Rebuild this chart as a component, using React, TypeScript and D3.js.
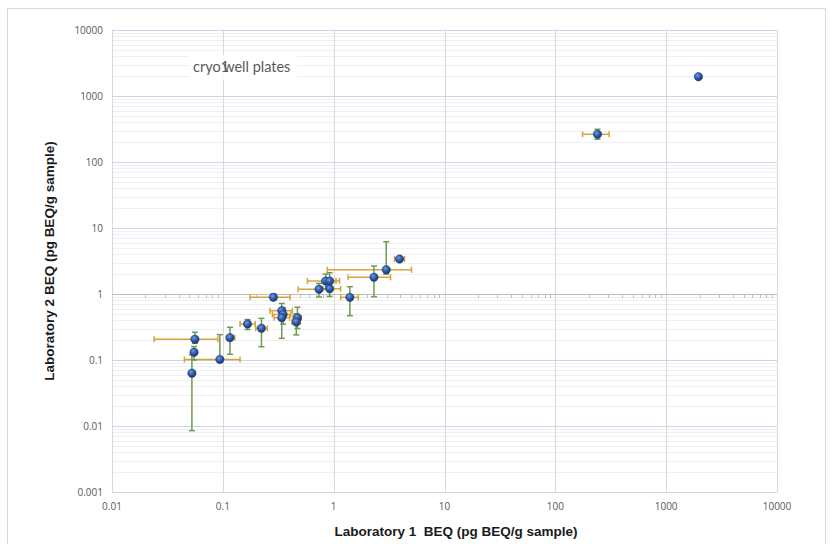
import * as d3 from 'd3';

// Laboratory 1 vs Laboratory 2 BEQ, with error bars (null = no bar)
const lab1 = [0.056, 0.055, 0.0526, 0.094, 0.116, 0.167, 0.223, 0.286, 0.34, 0.35, 0.34, 0.471, 0.46, 0.737, 0.92, 0.847, 0.92, 1.4, 2.31, 2.98, 3.93, 240, 1954];
const lab2 = [0.206, 0.131, 0.063, 0.102, 0.218, 0.351, 0.302, 0.891, 0.558, 0.49, 0.437, 0.437, 0.376, 1.18, 1.2, 1.57, 1.57, 0.89, 1.79, 2.33, 3.39, 263, 1960];
const lab1Low = [0.024, null, null, 0.045, 0.108, 0.143, 0.198, 0.176, 0.266, 0.28, 0.29, 0.43, 0.42, 0.477, 0.8, 0.58, 0.8, 1.156, 1.35, 0.877, 3.54, 176, null];
const lab1High = [0.09, null, null, 0.143, 0.128, 0.196, 0.252, 0.404, 0.424, 0.41, 0.4, 0.51, 0.5, 0.95, 1.156, 1.13, 1.05, 1.67, 3.26, 5.04, 4.36, 306, null];
const lab2Low = [0.179, 0.1, 0.0085, 0.095, 0.122, 0.29, 0.159, 0.81, 0.42, 0.35, 0.213, 0.3, 0.24, 0.9, 0.92, 1.2, 1.3, 0.469, 0.91, 2.0, null, 221, null];
const lab2High = [0.263, 0.16, 0.12, 0.242, 0.313, 0.41, 0.428, 1.0, 0.72, 0.62, 0.55, 0.63, 0.5, 1.45, 1.5, 2.0, 2.1, 1.29, 2.65, 6.2, null, 313, null];

const xTicks = [0.01, 0.1, 1, 10, 100, 1000, 10000];
const yTicks = [0.001, 0.01, 0.1, 1, 10, 100, 1000, 10000];
const xTickLabels = ['0.01', '0.1', '1', '10', '100', '1000', '10000'];
const yTickLabels = ['0.001', '0.01', '0.1', '1', '10', '100', '1000', '10000'];

const W = 830;
const H = 544;
const left = 112, right = 777, top = 30, bottom = 492;

const ORANGE = '#d6a43a';
const GREEN = '#6f9a52';
const tickFont = "'Open Sans', sans-serif";
const titleFont = "'Liberation Sans', Arial, sans-serif";

function minors(lo: number, hi: number) {
  const out: number[] = [];
  for (let d = lo; d < hi; d *= 10) {
    for (let k = 2; k <= 9; k++) out.push(d * k);
  }
  return out;
}

export default function App() {
  const x = d3.scaleLog().domain([0.01, 10000]).range([left, right]);
  const y = d3.scaleLog().domain([0.001, 10000]).range([bottom, top]);

  const xMinor = minors(0.01, 10000);
  const yMinor = minors(0.001, 10000);

  const pts = lab1.map((v, i) => ({
    x: v, y: lab2[i],
    xl: lab1Low[i], xh: lab1High[i],
    yl: lab2Low[i], yh: lab2High[i],
  }));

  const cap = 3;

  return (
    <svg width={W} height={H} style={{ position: 'absolute', left: 0, top: 0, background: '#fff' }}>
      <defs>
        <radialGradient id="ball" cx="40%" cy="35%" r="65%">
          <stop offset="0%" stopColor="#6f9be0" />
          <stop offset="55%" stopColor="#2d58a8" />
          <stop offset="100%" stopColor="#1b3468" />
        </radialGradient>
      </defs>
      <rect x={7.5} y={8.5} width={818} height={540} fill="#fff" stroke="#d9d9d9" />

      {/* minor horizontal grid */}
      {yMinor.map((v, i) => (
        <line key={'ym' + i} x1={left} x2={right} y1={Math.round(y(v)) + 0.5} y2={Math.round(y(v)) + 0.5} stroke="#eef0f5" />
      ))}
      {/* major vertical grid */}
      {xTicks.map((v, i) => (
        <line key={'xg' + i} x1={Math.round(x(v)) + 0.5} x2={Math.round(x(v)) + 0.5} y1={top} y2={bottom} stroke="#d9d9d9" />
      ))}
      {/* major horizontal grid */}
      {yTicks.map((v, i) => (
        <line key={'yg' + i} x1={left} x2={right} y1={Math.round(y(v)) + 0.5} y2={Math.round(y(v)) + 0.5} stroke="#c8d4ea" />
      ))}
      {/* horizontal axis line crossing at 1 */}
      <line x1={left} x2={right} y1={Math.round(y(1)) + 0.5} y2={Math.round(y(1)) + 0.5} stroke="#bfbfbf" />
      {xMinor.map((v, i) => (
        <line key={'xt' + i} x1={Math.round(x(v)) + 0.5} x2={Math.round(x(v)) + 0.5} y1={y(1)} y2={y(1) + 4} stroke="#bfbfbf" />
      ))}

      {/* title */}
      <rect x={189} y={55} width={108} height={25} fill="#fff" opacity={0.85} />
      <text x={193} y={72} fontFamily="Lato, sans-serif" fontSize={14.5} fill="#595959">
        <tspan>cryo</tspan>
        <tspan>1</tspan>
        <tspan dx={-6}>well plates</tspan>
      </text>

      {/* tick labels */}
      {xTicks.map((v, i) => (
        <text key={'xl' + i} x={x(v)} y={510} textAnchor="middle" fontFamily={tickFont} fontSize={10} fill="#595959">{xTickLabels[i]}</text>
      ))}
      {yTicks.map((v, i) => (
        <text key={'yl' + i} x={103} y={y(v) + 3.5} textAnchor="end" fontFamily={tickFont} fontSize={10} fill="#595959">{yTickLabels[i]}</text>
      ))}

      {/* axis titles */}
      <text x={456} y={536} textAnchor="middle" fontFamily={titleFont} fontWeight="bold" fontSize={13.5} fill="#1a1a1a">
        Laboratory 1{'\u00a0\u00a0'}BEQ (pg BEQ/g sample)
      </text>
      <text transform={`translate(54, 261) rotate(-90)`} textAnchor="middle" fontFamily={titleFont} fontWeight="bold" fontSize={13.5} fill="#1a1a1a">
        Laboratory 2 BEQ (pg BEQ/g sample)
      </text>

      {/* x error bars */}
      {pts.map((p, i) => p.xl == null ? null : (
        <g key={'ex' + i} stroke={ORANGE} strokeWidth={1.5}>
          <line x1={x(p.xl)} x2={x(p.xh!)} y1={y(p.y)} y2={y(p.y)} />
          <line x1={x(p.xl)} x2={x(p.xl)} y1={y(p.y) - cap} y2={y(p.y) + cap} />
          <line x1={x(p.xh!)} x2={x(p.xh!)} y1={y(p.y) - cap} y2={y(p.y) + cap} />
        </g>
      ))}
      {/* y error bars */}
      {pts.map((p, i) => p.yl == null ? null : (
        <g key={'ey' + i} stroke={GREEN} strokeWidth={1.5}>
          <line x1={x(p.x)} x2={x(p.x)} y1={y(p.yl)} y2={y(p.yh!)} />
          <line x1={x(p.x) - cap} x2={x(p.x) + cap} y1={y(p.yl)} y2={y(p.yl)} />
          <line x1={x(p.x) - cap} x2={x(p.x) + cap} y1={y(p.yh!)} y2={y(p.yh!)} />
        </g>
      ))}
      {/* markers */}
      {pts.map((p, i) => (
        <circle key={'pt' + i} cx={x(p.x)} cy={y(p.y)} r={4.2} fill="url(#ball)" stroke="#1f3d78" strokeWidth={0.5} />
      ))}
    </svg>
  );
}
